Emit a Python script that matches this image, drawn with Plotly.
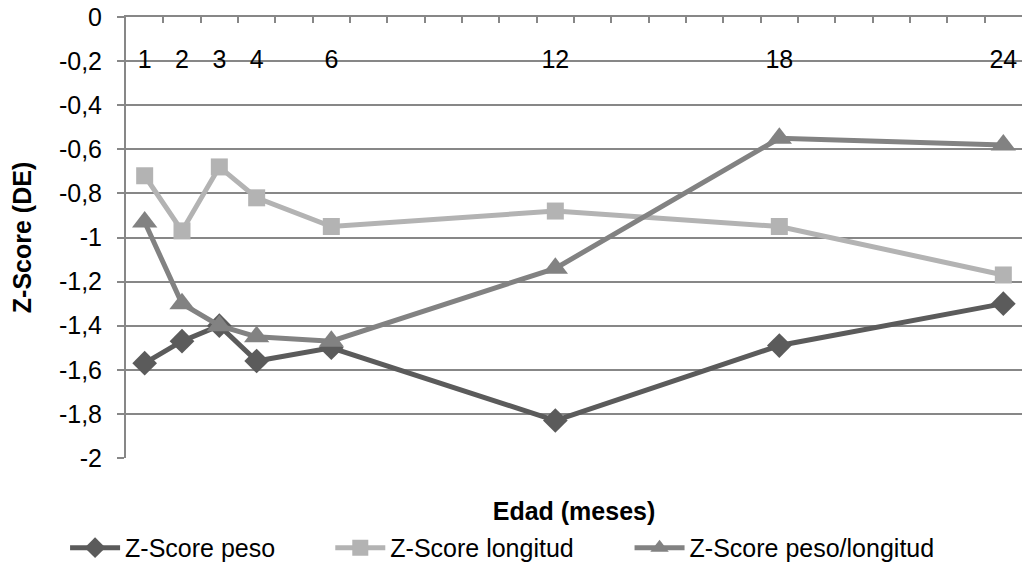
import plotly.graph_objects as go

meses = [1, 2, 3, 4, 6, 12, 18, 24]
z_peso = [-1.57, -1.47, -1.40, -1.56, -1.50, -1.83, -1.49, -1.30]
z_longitud = [-0.72, -0.97, -0.68, -0.82, -0.95, -0.88, -0.95, -1.17]
z_peso_longitud = [-0.93, -1.30, -1.40, -1.45, -1.47, -1.14, -0.55, -0.58]

y_ticks = [0, -0.2, -0.4, -0.6, -0.8, -1, -1.2, -1.4, -1.6, -1.8, -2]
y_labels = ["0", "-0,2", "-0,4", "-0,6", "-0,8", "-1", "-1,2", "-1,4", "-1,6", "-1,8", "-2"]
x_labels = [str(m) for m in meses]
x_range = [0.5, 24.5]
minor_ticks = [i + 0.5 for i in range(1, 24)]

FONT = "Liberation Sans, Arial, sans-serif"
GRID = "#878787"
FS = 25

fig = go.Figure()
series = [
    ("Z-Score peso", z_peso, "#5b5b5b", "diamond", 19, "legend", -0.068),
    ("Z-Score longitud", z_longitud, "#b3b3b3", "square", 17, "legend2", 0.228),
    ("Z-Score peso/longitud", z_peso_longitud, "#828282", "triangle-up", 22, "legend3", 0.562),
]
legend_x = {}
for name, vals, col, sym, sz, leg, lx in series:
    fig.add_trace(go.Scatter(
        x=meses, y=vals, name=name, mode="lines+markers",
        line=dict(color=col, width=5),
        marker=dict(symbol=sym, size=sz, color=col),
        legend=leg,
    ))
    legend_x[leg] = lx
# empty helper traces so the extra axes get drawn
fig.add_trace(go.Scatter(x=[], y=[], xaxis="x2", showlegend=False, hoverinfo="skip"))
fig.add_trace(go.Scatter(x=[], y=[], xaxis="x3", showlegend=False, hoverinfo="skip"))

legend_common = dict(orientation="h", xanchor="left", y=-0.204, yanchor="middle",
                     font=dict(size=FS), itemwidth=50, bgcolor="rgba(0,0,0,0)")

fig.update_layout(
    width=1022, height=567,
    margin=dict(l=126, r=0, t=17, b=109, autoexpand=False),
    paper_bgcolor="white", plot_bgcolor="white",
    font=dict(family=FONT, size=FS, color="black"),
    showlegend=True,
    legend=dict(x=legend_x["legend"], **legend_common),
    legend2=dict(x=legend_x["legend2"], **legend_common),
    legend3=dict(x=legend_x["legend3"], **legend_common),
    # main axis: top x axis line + ticks between months
    xaxis=dict(range=x_range, side="top", tickmode="array", tickvals=minor_ticks,
               showticklabels=False, ticks="inside", ticklen=6, tickcolor=GRID, tickwidth=1.5,
               showline=True, linecolor=GRID, linewidth=2, showgrid=False, zeroline=False),
    # month labels, just below the top line
    xaxis2=dict(range=x_range, overlaying="x", side="top", anchor="free", position=0.874,
                tickmode="array", tickvals=meses, ticktext=x_labels,
                ticks="", showline=False, showgrid=False, zeroline=False,
                tickfont=dict(size=FS)),
    xaxis3=dict(range=x_range, overlaying="x", side="bottom", anchor="y",
                showticklabels=False, showline=False, showgrid=False,
                zeroline=False, ticks="",
                title=dict(text="<b>Edad (meses)</b>", standoff=44, font=dict(size=FS))),
    yaxis=dict(range=[-2, 0], tickmode="array", tickvals=y_ticks, ticktext=y_labels,
               showgrid=True, gridcolor=GRID, gridwidth=1.5, zeroline=False,
               showline=True, linecolor=GRID, linewidth=2,
               ticks="outside", ticklen=7, tickcolor=GRID, tickwidth=1.5,
               ticklabelstandoff=10, tickfont=dict(size=FS),
               title=dict(text="<b>Z-Score (DE)</b>", standoff=20, font=dict(size=FS))),
)

fig.write_html("out.html")
